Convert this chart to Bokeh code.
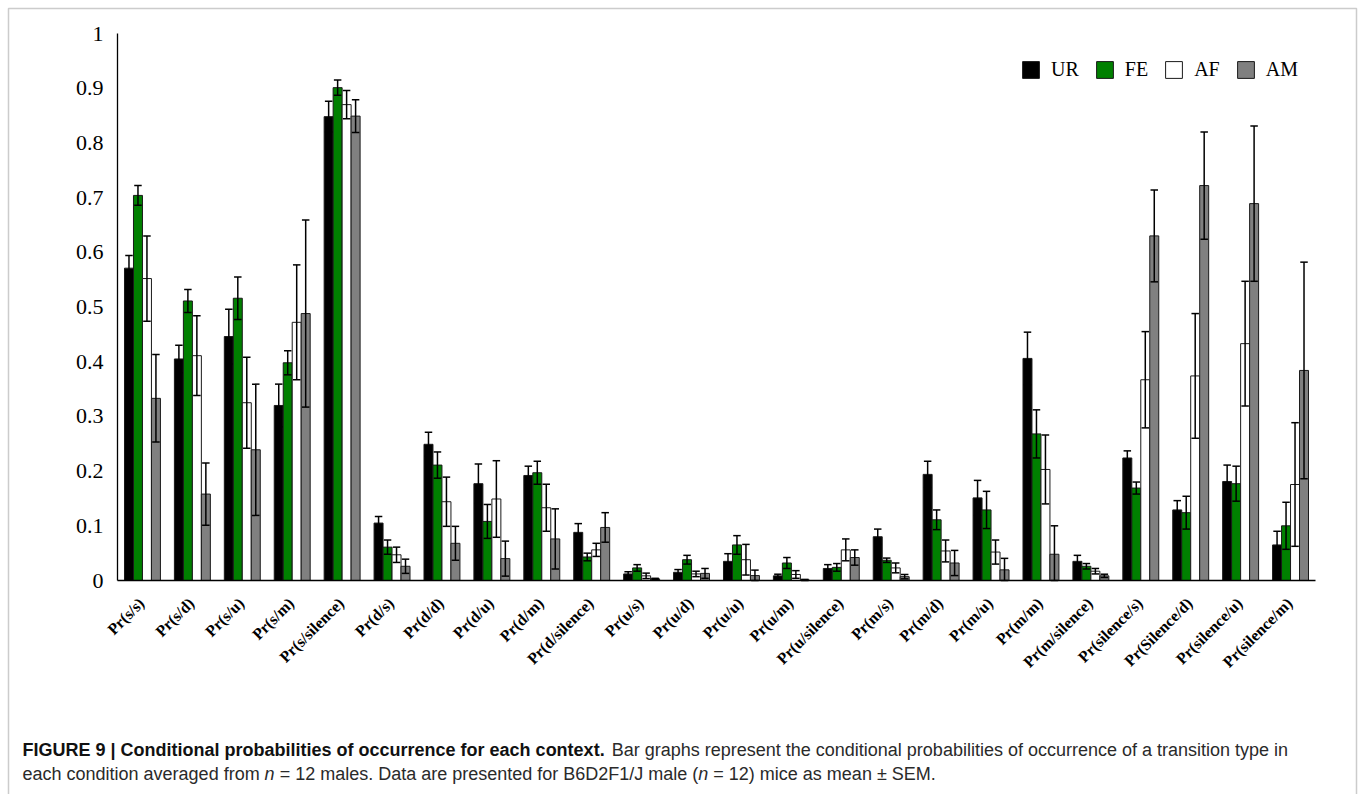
import math
from bokeh.plotting import figure
from bokeh.models import ColumnDataSource, Range1d, Label, BoxAnnotation
from bokeh.transform import dodge
from bokeh.core.properties import value
from bokeh.embed import file_html
from bokeh.resources import INLINE

# ---------------- data ----------------
categories = ["Pr(s/s)", "Pr(s/d)", "Pr(s/u)", "Pr(s/m)", "Pr(s/silence)",
              "Pr(d/s)", "Pr(d/d)", "Pr(d/u)", "Pr(d/m)", "Pr(d/silence)",
              "Pr(u/s)", "Pr(u/d)", "Pr(u/u)", "Pr(u/m)", "Pr(u/silence)",
              "Pr(m/s)", "Pr(m/d)", "Pr(m/u)", "Pr(m/m)", "Pr(m/silence)",
              "Pr(silence/s)", "Pr(Silence/d)", "Pr(silence/u)", "Pr(silence/m)"]

series_names = ["UR", "FE", "AF", "AM"]

ur = [0.571, 0.405, 0.446, 0.320, 0.848, 0.105, 0.249, 0.177, 0.192, 0.088,
      0.012, 0.015, 0.035, 0.0085, 0.022, 0.080, 0.194, 0.151, 0.406, 0.035,
      0.224, 0.129, 0.181, 0.065]
ur_sem = [0.023, 0.025, 0.050, 0.039, 0.028, 0.012, 0.022, 0.036, 0.017, 0.016,
          0.004, 0.005, 0.014, 0.003, 0.007, 0.014, 0.024, 0.032, 0.048, 0.011,
          0.013, 0.017, 0.030, 0.025]

fe = [0.704, 0.511, 0.516, 0.398, 0.901, 0.061, 0.211, 0.108, 0.197, 0.043,
      0.023, 0.038, 0.065, 0.032, 0.024, 0.037, 0.111, 0.129, 0.268, 0.026,
      0.169, 0.124, 0.177, 0.100]
fe_sem = [0.018, 0.021, 0.039, 0.022, 0.014, 0.013, 0.024, 0.031, 0.021, 0.007,
          0.006, 0.008, 0.017, 0.010, 0.007, 0.004, 0.018, 0.034, 0.044, 0.005,
          0.011, 0.030, 0.032, 0.043]

af = [0.552, 0.411, 0.325, 0.472, 0.870, 0.047, 0.144, 0.149, 0.133, 0.056,
      0.0085, 0.012, 0.038, 0.011, 0.056, 0.023, 0.054, 0.052, 0.203, 0.017,
      0.367, 0.374, 0.433, 0.1755]
af_sem = [0.078, 0.073, 0.083, 0.105, 0.026, 0.014, 0.045, 0.070, 0.043, 0.012,
          0.005, 0.005, 0.028, 0.007, 0.020, 0.009, 0.020, 0.022, 0.063, 0.005,
          0.088, 0.114, 0.114, 0.113]

am = [0.333, 0.158, 0.239, 0.488, 0.849, 0.026, 0.068, 0.040, 0.076, 0.097,
      0.003, 0.013, 0.009, 0.001, 0.042, 0.007, 0.032, 0.0195, 0.048, 0.0085,
      0.630, 0.722, 0.689, 0.384]
am_sem = [0.080, 0.057, 0.120, 0.171, 0.030, 0.013, 0.031, 0.032, 0.055, 0.027,
          0.001, 0.009, 0.010, 0.001, 0.014, 0.004, 0.023, 0.021, 0.052, 0.003,
          0.084, 0.098, 0.142, 0.198]

y_ticks = [0, 0.1, 0.2, 0.3, 0.4, 0.5, 0.6, 0.7, 0.8, 0.9, 1]
y_tick_labels = ["0", "0.1", "0.2", "0.3", "0.4", "0.5", "0.6", "0.7", "0.8", "0.9", "1"]

caption_bold = "FIGURE 9 | Conditional probabilities of occurrence for each context."
caption_rest1 = "Bar graphs represent the conditional probabilities of occurrence of a transition type in"
caption_l2a = "each condition averaged from"
caption_l2c = "= 12 males. Data are presented for B6D2F1/J male ("
caption_l2e = "= 12) mice as mean \u00b1 SEM."

# ---------------- layout constants (pixels) ----------------
W, H = 1360, 794
AX_LEFT, AX_RIGHT = 117, 1315      # x-extent of the category axis
AX_BOTTOM, AX_TOP = 580, 33        # y pixel of value 0 and value 1
n_cat = len(categories)
ppu_x = (AX_RIGHT - AX_LEFT) / n_cat
ppu_y = (AX_BOTTOM - AX_TOP) / 1.0

x_range = Range1d(-AX_LEFT / ppu_x, (W - AX_LEFT) / ppu_x)
y_range = Range1d(-(H - AX_BOTTOM) / ppu_y, AX_BOTTOM / ppu_y)

p = figure(x_range=x_range, y_range=y_range, width=W, height=H,
           output_backend="svg", toolbar_location=None,
           x_axis_type=None, y_axis_type=None, min_border=0)
p.outline_line_color = None
p.grid.visible = False
p.background_fill_color = "white"
p.border_fill_color = "white"

# ---------------- bars & error bars ----------------
means = [ur, fe, af, am]
sems = [ur_sem, fe_sem, af_sem, am_sem]
colors = ["#000000", "#008000", "#ffffff", "#808080"]
offsets = [-0.27, -0.09, 0.09, 0.27]
bar_w = 0.18
cap = 0.075

data = {"cat": categories, "pos": [i + 0.5 for i in range(n_cat)], "zero": [0] * n_cat}
for name, m, s in zip(series_names, means, sems):
    data[name] = m
    data[name + "_lo"] = [max(a - b, 0) for a, b in zip(m, s)]
    data[name + "_hi"] = [a + b for a, b in zip(m, s)]
src = ColumnDataSource(data)

for name, col, off in zip(series_names, colors, offsets):
    p.vbar(x=dodge("pos", off), top=name, width=bar_w, source=src,
           fill_color=col, line_color="#1a1a1a", line_width=1, legend_label=name)

for name, off in zip(series_names, offsets):
    p.segment(x0=dodge("pos", off), x1=dodge("pos", off),
              y0=name + "_lo", y1=name + "_hi", source=src, line_color="black", line_width=1.5)
    for end in ("_lo", "_hi"):
        p.segment(x0=dodge("pos", off - cap), x1=dodge("pos", off + cap),
                  y0=name + end, y1=name + end, source=src, line_color="black", line_width=1.5)

# ---------------- axes ----------------
p.segment(x0=[0], y0=[0], x1=[0], y1=[y_ticks[-1]], line_color="black", line_width=1.3)
p.segment(x0=[0], y0=[0], x1=[n_cat], y1=[0], line_color="black", line_width=1.3)

ytick_src = ColumnDataSource({"y": y_ticks, "x": [0] * len(y_ticks), "t": y_tick_labels})
p.text(x="x", y="y", text="t", source=ytick_src, x_offset=-14,
       text_align="right", text_baseline="middle",
       text_font=value("Liberation Serif"), text_font_size="22px", text_color="black")

p.text(x="pos", y="zero", text="cat", source=src, angle=math.pi / 4,
       x_offset=-1, y_offset=20, text_align="right", text_baseline="middle",
       text_font=value("Liberation Serif"), text_font_style="bold",
       text_font_size="16px", text_color="black")

# ---------------- legend ----------------
lg = p.legend[0]
lg.orientation = "horizontal"
lg.location = (1020, H - 81)
lg.glyph_width = 21
lg.glyph_height = 21
lg.label_standoff = 10
lg.spacing = 15
lg.padding = 0
lg.margin = 0
lg.border_line_color = None
lg.background_fill_alpha = 0
lg.label_text_font = "Liberation Serif"
lg.label_text_font_size = "20px"
lg.label_text_color = "black"

# ---------------- outer frame ----------------
p.add_layout(BoxAnnotation(left=8, right=1356, top=H - 8, bottom=-20,
                           left_units="screen", right_units="screen",
                           top_units="screen", bottom_units="screen",
                           fill_color=None, fill_alpha=0, line_color="#555555", line_width=1.5))

# ---------------- caption ----------------
def cap_label(text, cx, cy, style="normal", color="#2a2a2a"):
    p.add_layout(Label(x=cx, y=H - cy, x_units="screen", y_units="screen", text=text,
                       text_font="Liberation Sans", text_font_size="18px",
                       text_font_style=style, text_color=color, text_baseline="middle"))

fs = 0.018
cap_label(caption_bold, 22, 749, "bold", "#111111")
x1 = 22 + 32343 * fs + 278 * fs + 2
cap_label(caption_rest1, x1, 749)
cap_label(caption_l2a, 22, 773)
xn1 = 22 + 13451 * fs
cap_label("n", xn1, 773, "italic")
xc = xn1 + (556 + 278) * fs
cap_label(caption_l2c, xc, 773)
xn2 = xc + 23260 * fs
cap_label("n", xn2, 773, "italic")
xe = xn2 + (556 + 278) * fs
cap_label(caption_l2e, xe, 773)

open("out.html", "w").write(file_html(p, INLINE))
